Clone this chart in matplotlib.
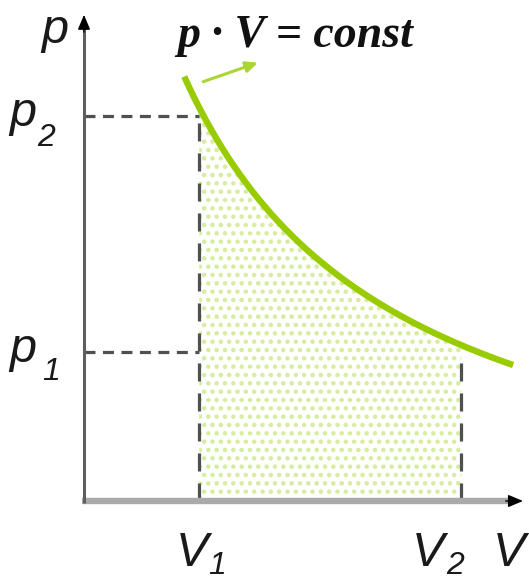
import numpy as np
import matplotlib
matplotlib.use("Agg")
import matplotlib.pyplot as plt

W, H, DPI = 529, 583, 100
SCALE = 57.6                      # pixels per unit on both axes

# isotherm p * V = const
CONST = 31.0
V_ORIGIN, P_ORIGIN = 2.0, 0.92    # where the drawn axes cross
V1, V2 = 4.0, 8.55
P1, P2 = 3.5, 7.6
CURVE_V = (3.74, 9.45)            # extent of the drawn isotherm
V_TIP, P_TIP = 9.62, 9.36         # arrow tips of the axes

GREEN = "#99cc00"
ARROW_GREEN = "#a9d634"
HATCH_GREEN = "#d6ec9f"
DASH = "#505050"

plt.rcParams["hatch.color"] = HATCH_GREEN
plt.rcParams["hatch.linewidth"] = 2.0

fig = plt.figure(figsize=(W / DPI, H / DPI), dpi=DPI)
ax = fig.add_axes([0, 0, 1, 1])
x_left = V_ORIGIN - 84 / SCALE
y_top = P_ORIGIN + 501 / SCALE
ax.set_xlim(x_left, x_left + W / SCALE)
ax.set_ylim(y_top - H / SCALE, y_top)
ax.axis("off")

# work area under the isotherm between V1 and V2
vf = np.linspace(V1, V2, 300)
ax.fill_between(vf, P_ORIGIN, CONST / vf, facecolor="white",
                edgecolor=HATCH_GREEN, hatch="..", linewidth=0, zorder=1)

# dashed guides
lw_d = 2.3
h_style = (0, (7.9 / lw_d, 5.4 / lw_d))
v_style = (0, (13.0 / lw_d, 8.6 / lw_d))
ax.plot([V_ORIGIN, V1], [P2, P2], color=DASH, lw=lw_d, ls=h_style, zorder=2)
ax.plot([V_ORIGIN, V1], [P1, P1], color=DASH, lw=lw_d, ls=h_style, zorder=2)
ax.plot([V1, V1], [P_ORIGIN, P2], color=DASH, lw=lw_d, ls=v_style, zorder=2)
ax.plot([V2, V2], [P_ORIGIN, P1], color=DASH, lw=lw_d, ls=v_style, zorder=2)

# axes
ax.plot([V_ORIGIN - 0.03, V_TIP - 0.15], [P_ORIGIN, P_ORIGIN],
        color="#aaaaaa", lw=4.6, solid_capstyle="butt", zorder=3)
ax.plot([V_ORIGIN, V_ORIGIN], [P_ORIGIN - 0.03, P_TIP - 0.15],
        color="#5e5e5e", lw=2.2, solid_capstyle="butt", zorder=3)
head = "-|>,head_length=0.9,head_width=0.38"
ax.annotate("", xy=(V_TIP, P_ORIGIN), xytext=(V_TIP - 0.3, P_ORIGIN),
            arrowprops=dict(arrowstyle=head, color="black", lw=1,
                            shrinkA=0, shrinkB=0), zorder=4)
ax.annotate("", xy=(V_ORIGIN, P_TIP), xytext=(V_ORIGIN, P_TIP - 0.3),
            arrowprops=dict(arrowstyle=head, color="black", lw=1,
                            shrinkA=0, shrinkB=0), zorder=4)

# isotherm
vc = np.linspace(CURVE_V[0], CURVE_V[1], 400)
ax.plot(vc, CONST / vc, color=GREEN, lw=4.6, solid_capstyle="butt", zorder=5)

# pointer to the equation
ax.annotate("", xy=(5.02, 8.53), xytext=(4.07, 8.2),
            arrowprops=dict(arrowstyle="-|>,head_length=0.7,head_width=0.32",
                            color=ARROW_GREEN, lw=2.2, shrinkA=0, shrinkB=0),
            zorder=5)


def px(x, y):
    return x / W, 1 - y / H


lab = dict(family="Liberation Sans", style="italic", color="#1a1a1a",
           va="baseline", ha="left")
big, small = 35, 23

fig.text(*px(41, 43), "p", fontsize=big, **lab)
fig.text(*px(9, 126), "p", fontsize=big, **lab)
fig.text(*px(37, 146), "2", fontsize=small, **lab)
fig.text(*px(9, 362), "p", fontsize=big, **lab)
fig.text(*px(42, 380), "1", fontsize=small, **lab)
fig.text(*px(176, 566), "V", fontsize=big, **lab)
fig.text(*px(208, 574), "1", fontsize=small, **lab)
fig.text(*px(412, 566), "V", fontsize=big, **lab)
fig.text(*px(446, 574), "2", fontsize=small, **lab)
fig.text(*px(493, 566), "V", fontsize=big, **lab)

fig.text(*px(177, 47), "p \u00b7 V = const", fontsize=33,
         family="Liberation Serif", style="italic", weight="bold",
         color="#111111", va="baseline", ha="left")

fig.savefig("out.png", dpi=DPI)
